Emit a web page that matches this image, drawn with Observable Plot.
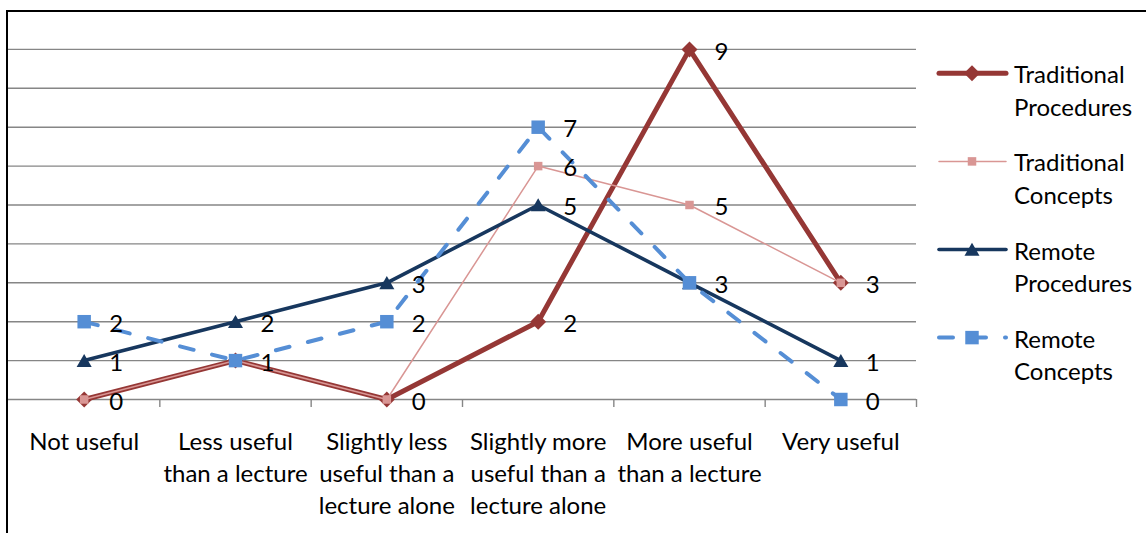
<!DOCTYPE html>
<html>
<head>
<meta charset="utf-8">
<script src="https://cdn.jsdelivr.net/npm/d3@7"></script>
<script src="https://cdn.jsdelivr.net/npm/@observablehq/plot@0.6"></script>
<style>
  html, body { margin: 0; padding: 0; background: #fff; }
  #chart { position: relative; width: 1146px; height: 533px; overflow: hidden; background: #fff; }
  #chart svg { display: block; }
  #frame { position: absolute; left: 6px; top: 10px; width: 1140px; height: 530px;
           border-left: 2px solid #000; border-top: 2px solid #000; box-sizing: border-box; pointer-events: none; }
  #legend { position: absolute; left: 920px; top: 40px; }
</style>
</head>
<body>
<div id="chart"></div>
<script>
// Survey responses: how useful each lab format was, compared with a lecture
const categories = [
  "Not useful",
  "Less useful\nthan a lecture",
  "Slightly less\nuseful than a\nlecture alone",
  "Slightly more\nuseful than a\nlecture alone",
  "More useful\nthan a lecture",
  "Very useful"
];
const seriesNames = ["Traditional Procedures", "Traditional Concepts", "Remote Procedures", "Remote Concepts"];
const traditionalProcedures = [0, 1, 0, 2, 9, 3];
const traditionalConcepts   = [0, 1, 0, 6, 5, 3];
const remoteProcedures      = [1, 2, 3, 5, 3, 1];
const remoteConcepts        = [2, 1, 2, 7, 3, 0];
const gridValues = [1, 2, 3, 4, 5, 6, 7, 8, 9];
const yMax = 10;

// Drawing style of each series
const seriesStyle = {
  "Traditional Procedures": {color: "#953735", width: 5,   dash: null,    symbol: "diamond2", r: 7.2, dy: 0},
  "Traditional Concepts":   {color: "#D99694", width: 1.5, dash: null,    symbol: "square",   r: 4.8, dy: 0},
  "Remote Procedures":      {color: "#17375E", width: 3.6, dash: null,    symbol: "triangle", r: 5.6, dy: 2},
  "Remote Concepts":        {color: "#558ED5", width: 4,   dash: "14,19", symbol: "square",   r: 7.6, dy: 0}
};

const seriesValues = [traditionalProcedures, traditionalConcepts, remoteProcedures, remoteConcepts];
const rows = seriesNames.flatMap((name, s) =>
  seriesValues[s].map((value, i) => ({series: name, i, value}))
);
// Series that share a point share a single value label
const labelRows = rows.filter((d, k) =>
  rows.findIndex((e) => e.i === d.i && e.value === d.value) === k
);

const fontFamily = "Lato, 'Open Sans', sans-serif";
const fontSize = 24;
const gridColor = "#868686";

const seriesMarks = seriesNames.flatMap((name) => {
  const st = seriesStyle[name];
  const data = rows.filter((d) => d.series === name);
  return [
    Plot.line(data, {
      x: "i", y: "value", stroke: st.color, strokeWidth: st.width,
      strokeDasharray: st.dash ?? undefined, strokeLinecap: "round", strokeLinejoin: "round"
    }),
    Plot.dot(data, {
      x: "i", y: "value", symbol: st.symbol, r: st.r, fill: st.color, stroke: "none", dy: st.dy
    })
  ];
});

const boundaries = d3.range(categories.length).map((i) => i + 0.5);

const chart = Plot.plot({
  width: 1146,
  height: 533,
  marginLeft: 8,
  marginRight: 230,
  marginTop: 10,
  marginBottom: 134,
  style: {fontFamily, fontSize: `${fontSize}px`, color: "#000", background: "#fff", overflow: "visible"},
  x: {type: "linear", domain: [-0.5, categories.length - 0.5]},
  y: {type: "linear", domain: [0, yMax], axis: null},
  marks: [
    Plot.ruleY(gridValues, {stroke: gridColor, strokeWidth: 1.4}),
    Plot.ruleY([0], {stroke: gridColor, strokeWidth: 1.4}),
    // category boundary ticks
    Plot.axisX({ticks: boundaries, tickSize: 8, stroke: gridColor, strokeWidth: 1.4, tickFormat: () => "", label: null}),
    // category names
    Plot.axisX({
      ticks: d3.range(categories.length), tickSize: 0, tickPadding: 27,
      tickFormat: (i) => categories[i], fontSize, lineHeight: 1.35, fill: "#000", label: null
    }),
    ...seriesMarks,
    Plot.text(labelRows, {
      x: "i", y: "value", text: (d) => String(d.value),
      textAnchor: "start", dx: 25, dy: 2.5, fontSize, fill: "#000"
    })
  ]
});

const container = document.getElementById("chart");
container.appendChild(chart);

const frame = document.createElement("div");
frame.id = "frame";
container.appendChild(frame);

// Legend: line sample with marker, then the two-line series name
const legend = d3.create("svg")
  .attr("id", "legend")
  .attr("width", 226)
  .attr("height", 360)
  .style("font-family", fontFamily)
  .style("font-size", `${fontSize}px`);

const symbolTypes = {diamond2: d3.symbolDiamond2, square: d3.symbolSquare, triangle: d3.symbolTriangle};
seriesNames.forEach((name, k) => {
  const st = seriesStyle[name];
  const y = 33.3 + 88.1 * k;
  const g = legend.append("g");
  g.append("line")
    .attr("x1", 19).attr("x2", 86).attr("y1", y).attr("y2", y)
    .attr("stroke", st.color).attr("stroke-width", st.width)
    .attr("stroke-linecap", "round")
    .attr("stroke-dasharray", st.dash);
  g.append("path")
    .attr("transform", `translate(52,${y + st.dy})`)
    .attr("d", d3.symbol(symbolTypes[st.symbol], Math.PI * st.r * st.r)())
    .attr("fill", st.color);
  const words = name.split(" ");
  const text = g.append("text").attr("x", 94).attr("y", y + 10).attr("fill", "#000");
  words.forEach((w, j) => {
    text.append("tspan").attr("x", 94).attr("dy", j === 0 ? 0 : 32.5).text(w);
  });
});
container.appendChild(legend.node());
</script>
</body>
</html>
